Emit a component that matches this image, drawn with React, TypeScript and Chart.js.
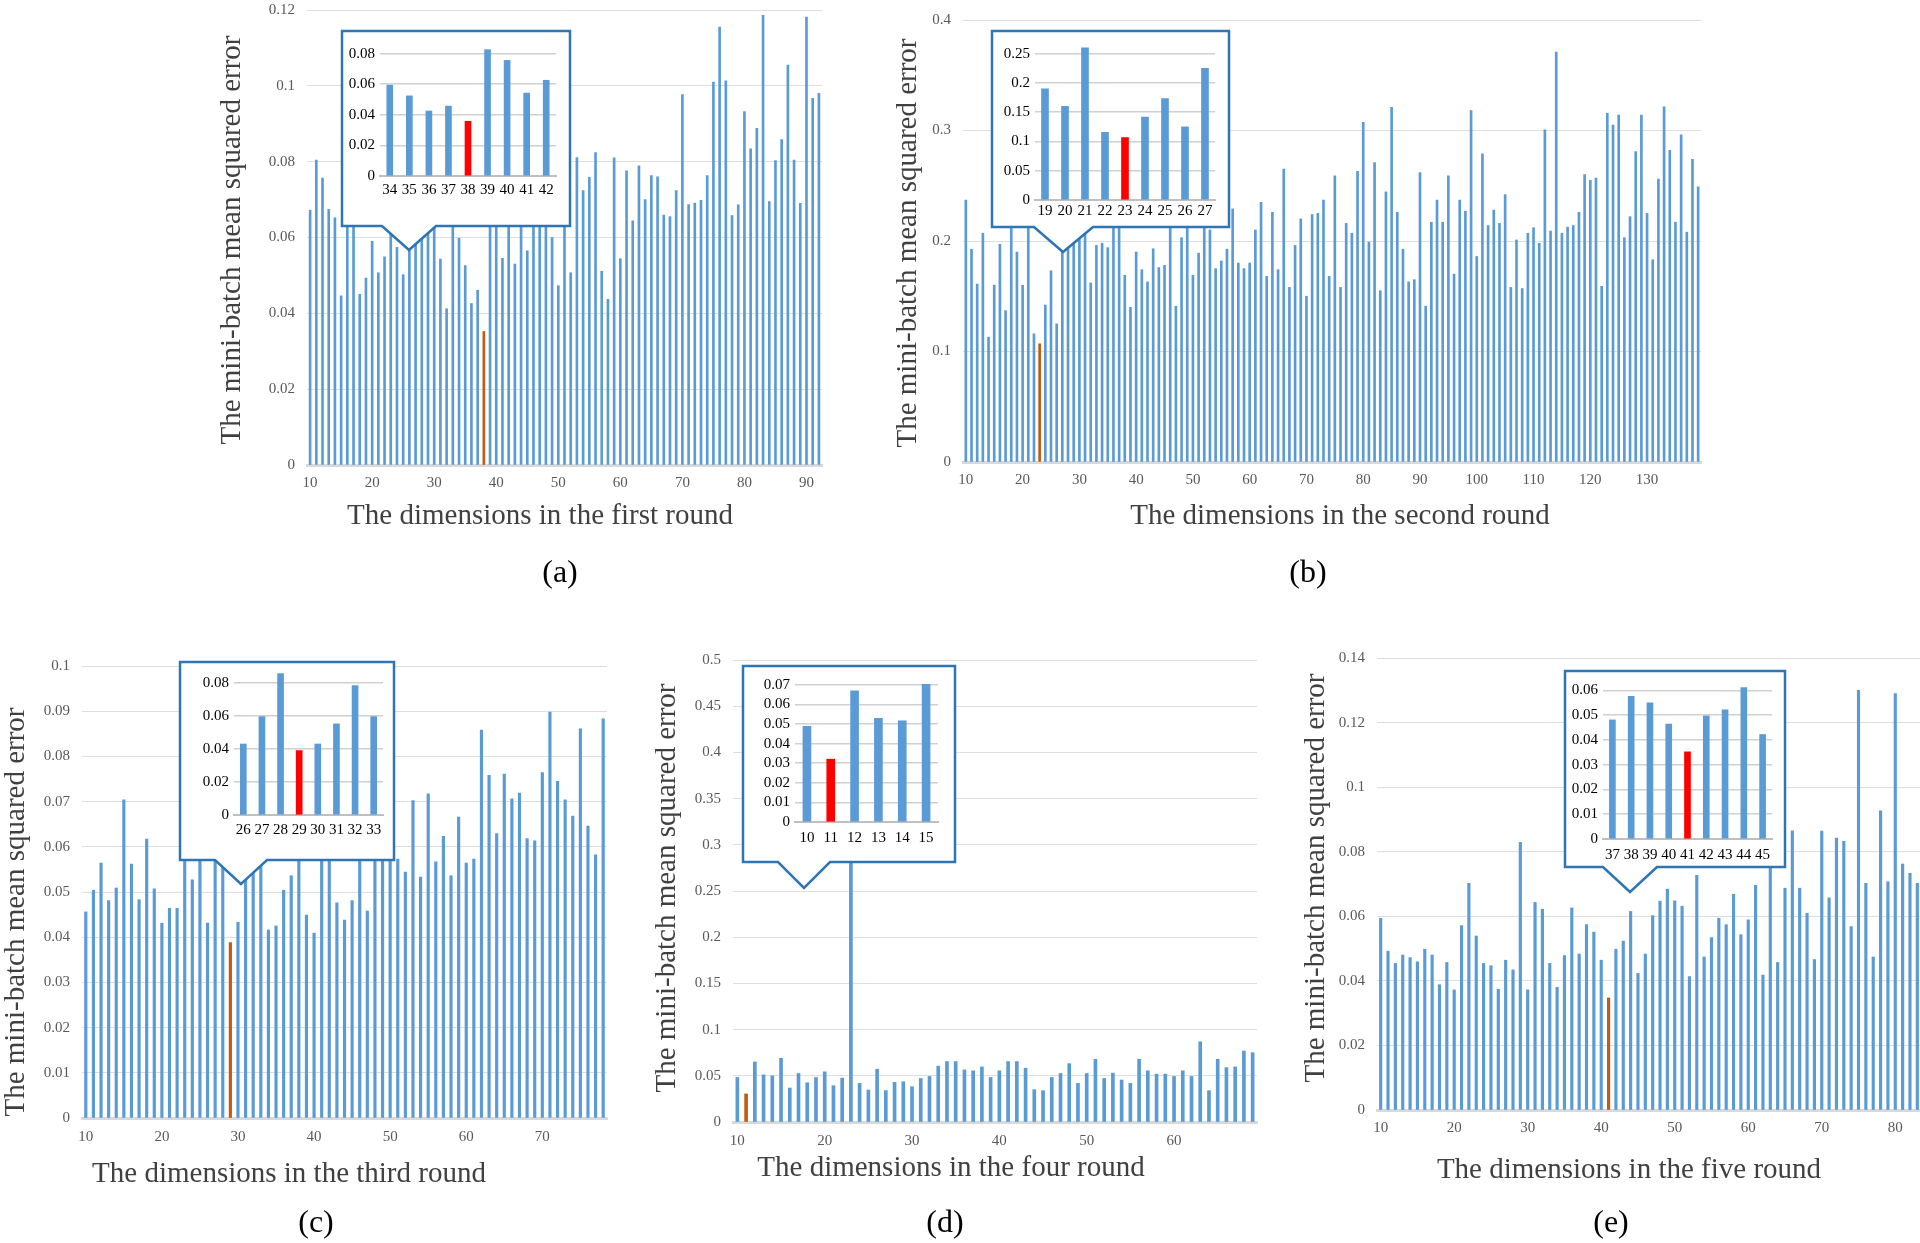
import React, { useEffect, useRef } from "react";
import { Chart, registerables } from "chart.js";

Chart.register(...registerables);

const FONT = "Liberation Serif";
const CSS_FONT = "'Liberation Serif', 'Times New Roman', Times, serif";

// ---------------- DATA ----------------
// (a) first round
const firstDimA = 10;
const mseA = [
  0.0672, 0.0804, 0.0757, 0.0674, 0.0652, 0.0446, 0.068, 0.066, 0.045, 0.0493,
  0.059, 0.0507, 0.0549, 0.07, 0.0574, 0.0502, 0.068, 0.0602, 0.07, 0.072,
  0.066, 0.0543, 0.0412, 0.068, 0.0598, 0.0526, 0.0426, 0.0461, 0.0352, 0.083,
  0.076, 0.0545, 0.063, 0.053, 0.068, 0.0565, 0.07, 0.07, 0.066, 0.06,
  0.0473, 0.07, 0.0507, 0.0811, 0.0724, 0.0759, 0.0824, 0.0511, 0.0437, 0.081,
  0.0544, 0.0776, 0.0644, 0.0789, 0.07, 0.0763, 0.076, 0.0659, 0.0655, 0.0724,
  0.0977, 0.0687, 0.0691, 0.0698, 0.0763, 0.101, 0.1155, 0.1013, 0.0658, 0.0686,
  0.0932, 0.0834, 0.0888, 0.1186, 0.0695, 0.0803, 0.0858, 0.1055, 0.0804, 0.069,
  0.1181, 0.0967, 0.098,
];
const selectedDimA = 38;
const insetDimsA = [34, 35, 36, 37, 38, 39, 40, 41, 42];
const insetMseA = [0.0594, 0.0524, 0.0425, 0.0457, 0.0358, 0.0826, 0.0756, 0.0542, 0.0626];

// (b) second round
const firstDimB = 10;
const mseB = [
  0.237, 0.1925, 0.161, 0.207, 0.113, 0.16, 0.197, 0.137, 0.225, 0.19,
  0.16, 0.263, 0.116, 0.107, 0.142, 0.173, 0.125, 0.225, 0.22, 0.235,
  0.21, 0.23, 0.162, 0.196, 0.198, 0.194, 0.22, 0.215, 0.169, 0.14,
  0.19, 0.174, 0.163, 0.193, 0.176, 0.178, 0.23, 0.141, 0.203, 0.22,
  0.169, 0.189, 0.215, 0.21, 0.175, 0.182, 0.1925, 0.229, 0.18, 0.175,
  0.18, 0.21, 0.235, 0.168, 0.226, 0.174, 0.265, 0.158, 0.196, 0.22,
  0.15, 0.224, 0.225, 0.237, 0.168, 0.259, 0.158, 0.216, 0.207, 0.263,
  0.3075, 0.199, 0.271, 0.155, 0.2445, 0.321, 0.226, 0.1925, 0.163, 0.165,
  0.262, 0.141, 0.217, 0.237, 0.217, 0.259, 0.17, 0.237, 0.227, 0.318,
  0.186, 0.279, 0.214, 0.228, 0.216, 0.242, 0.158, 0.201, 0.157, 0.207,
  0.212, 0.198, 0.3006, 0.209, 0.371, 0.207, 0.2125, 0.214, 0.226, 0.26,
  0.255, 0.257, 0.159, 0.3155, 0.305, 0.314, 0.203, 0.222, 0.281, 0.314,
  0.225, 0.183, 0.256, 0.3215, 0.282, 0.217, 0.296, 0.208, 0.274, 0.249,
];
const selectedDimB = 23;
const insetDimsB = [19, 20, 21, 22, 23, 24, 25, 26, 27];
const insetMseB = [0.19, 0.16, 0.26, 0.1156, 0.1067, 0.1417, 0.1733, 0.125, 0.225];

// (c) third round
const firstDimC = 10;
const mseC = [
  0.0456, 0.0504, 0.0564, 0.0481, 0.0509, 0.0704, 0.0562, 0.0483, 0.0617, 0.0507,
  0.0431, 0.0464, 0.0464, 0.058, 0.0527, 0.06, 0.0431, 0.06, 0.086, 0.0388,
  0.0433, 0.0551, 0.078, 0.06, 0.0416, 0.0425, 0.0504, 0.0536, 0.058, 0.0449,
  0.0409, 0.06, 0.058, 0.0476, 0.0438, 0.0481, 0.062, 0.0458, 0.058, 0.06,
  0.059, 0.0573, 0.0544, 0.0702, 0.0533, 0.0717, 0.0567, 0.0623, 0.0536, 0.0666,
  0.0564, 0.0573, 0.0858, 0.0758, 0.0629, 0.0761, 0.0706, 0.0719, 0.0618, 0.0613,
  0.0764, 0.0898, 0.0745, 0.0704, 0.0668, 0.0861, 0.0646, 0.0582, 0.0883,
];
const selectedDimC = 29;
const insetDimsC = [26, 27, 28, 29, 30, 31, 32, 33];
const insetMseC = [0.0431, 0.0597, 0.0859, 0.0391, 0.0431, 0.0553, 0.0786, 0.0597];

// (d) fourth round
const firstDimD = 10;
const mseD = [
  0.0482, 0.0304, 0.065, 0.051, 0.05, 0.069, 0.0368, 0.0525, 0.0425, 0.0482,
  0.0543, 0.0393, 0.0475, 0.3, 0.0418, 0.0346, 0.0571, 0.0339, 0.0429, 0.0436,
  0.0382, 0.0471, 0.0493, 0.0604, 0.0654, 0.0654, 0.0564, 0.0554, 0.0596, 0.0482,
  0.0554, 0.0654, 0.0654, 0.0582, 0.035, 0.0339, 0.0482, 0.0525, 0.0632, 0.0418,
  0.0525, 0.0679, 0.0471, 0.0529, 0.0454, 0.0418, 0.0679, 0.0554, 0.0518, 0.0518,
  0.0493, 0.0554, 0.0493, 0.0868, 0.0339, 0.0679, 0.0589, 0.0596, 0.0768, 0.075,
];
const selectedDimD = 11;
const insetDimsD = [10, 11, 12, 13, 14, 15];
const insetMseD = [0.0489, 0.0321, 0.067, 0.053, 0.0517, 0.0703];

// (e) fifth round
const firstDimE = 10;
const mseE = [
  0.0594, 0.0492, 0.0454, 0.048, 0.0472, 0.0459, 0.0498, 0.048, 0.0388, 0.0457,
  0.0372, 0.0571, 0.0702, 0.0539, 0.0454, 0.0447, 0.0374, 0.0464, 0.0434, 0.0829,
  0.0372, 0.0643, 0.0622, 0.0454, 0.038, 0.0478, 0.0626, 0.0483, 0.0574, 0.0551,
  0.0464, 0.0347, 0.0498, 0.0523, 0.0615, 0.0423, 0.0483, 0.0602, 0.0647, 0.0684,
  0.0648, 0.0631, 0.0413, 0.0727, 0.0474, 0.0534, 0.0594, 0.0574, 0.0668, 0.0543,
  0.0589, 0.0696, 0.0418, 0.078, 0.0457, 0.0687, 0.0865, 0.0687, 0.0609, 0.0466,
  0.0864, 0.0657, 0.0842, 0.0832, 0.0568, 0.13, 0.0702, 0.0474, 0.0927, 0.0707,
  0.129, 0.0762, 0.0733, 0.0702,
];
const selectedDimE = 41;
const insetDimsE = [37, 38, 39, 40, 41, 42, 43, 44, 45];
const insetMseE = [0.0481, 0.0576, 0.055, 0.0464, 0.0352, 0.0497, 0.0522, 0.0612, 0.0422];

// axis ranges (tick labels come from these)
const yMaxA = 0.12, yStepA = 0.02;
const yMaxB = 0.4, yStepB = 0.1;
const yMaxC = 0.1, yStepC = 0.01;
const yMaxD = 0.5, yStepD = 0.05;
const yMaxE = 0.14, yStepE = 0.02;
const insetYMaxA = 0.085, insetYStepA = 0.02;
const insetYMaxB = 0.27, insetYStepB = 0.05;
const insetYMaxC = 0.088, insetYStepC = 0.02;
const insetYMaxD = 0.072, insetYStepD = 0.01;
const insetYMaxE = 0.063, insetYStepE = 0.01;

const yTitle = "The mini-batch mean squared error";
const xTitles = [
  "The dimensions in the first round",
  "The dimensions in the second round",
  "The dimensions in the third round",
  "The dimensions in the four round",
  "The dimensions in the five round",
];
const captions = ["(a)", "(b)", "(c)", "(d)", "(e)"];

const dimsFrom = (first: number, n: number) => Array.from({ length: n }, (_, i) => first + i);

// ---------------- STYLE / LAYOUT ----------------
const BLUE = "#5B9BD5";
const MAIN_HI = "#C55A11";
const INSET_HI = "#FF0000";
const BOX = "#2E75B6";

type Area = { l: number; t: number; r: number; b: number };

type PanelSpec = {
  labels: number[];
  values: number[];
  selected: number;
  yMax: number;
  yStep: number;
  area: Area;
  bar: number;
  inset: boolean;
  xPad: number;
};

const fmt = (v: number) => String(parseFloat(Number(v).toFixed(4)));

function BarCanvas({ spec }: { spec: PanelSpec }) {
  const ref = useRef<HTMLCanvasElement | null>(null);
  const { area, inset } = spec;
  const padL = inset ? 44 : 72;
  const padT = inset ? 10 : 16;
  const padR = inset ? 8 : 22;
  const padB = inset ? 26 : 36;
  const left = area.l - padL;
  const top = area.t - padT;
  const width = area.r + padR - left;
  const height = area.b + padB - top;

  useEffect(() => {
    if (!ref.current) return;
    const tickColor = inset ? "#000000" : "#595959";
    const font = { family: FONT, size: 15 };
    const chart = new Chart(ref.current, {
      type: "bar",
      data: {
        labels: spec.labels.map(String),
        datasets: [
          {
            data: spec.values,
            backgroundColor: spec.labels.map((d) =>
              d === spec.selected ? (inset ? INSET_HI : MAIN_HI) : BLUE
            ),
            borderWidth: 0,
            barThickness: spec.bar,
          },
        ],
      },
      options: {
        animation: false,
        responsive: false,
        maintainAspectRatio: false,
        font: { family: FONT },
        layout: { padding: { left: 0, top: padT, right: padR, bottom: 0 } },
        plugins: {
          legend: { display: false },
          tooltip: { enabled: false },
          title: { display: false },
        },
        scales: {
          x: {
            type: "category",
            offset: true,
            grid: { display: false, drawTicks: false },
            border: { display: true, color: inset ? "#bfbfbf" : "#d9d9d9", width: inset ? 2 : 3 },
            ticks: {
              autoSkip: false,
              maxRotation: 0,
              minRotation: 0,
              padding: spec.xPad,
              color: tickColor,
              font,
              callback: (_v: any, i: number) => {
                const d = spec.labels[i];
                if (inset) return String(d);
                return d % 10 === 0 ? String(d) : null;
              },
            },
            afterFit: (s: any) => {
              s.height = padB;
            },
          },
          y: {
            min: 0,
            max: spec.yMax,
            grid: { color: inset ? "#d0d0d0" : "#dedede", lineWidth: inset ? 1.5 : 1, drawTicks: false },
            border: { display: false },
            ticks: {
              autoSkip: false,
              padding: inset ? 5 : 12,
              color: tickColor,
              font,
              callback: (v: any) => fmt(v),
            },
            afterBuildTicks: (s: any) => {
              const n = Math.floor(spec.yMax / spec.yStep + 1e-6);
              const t = [];
              for (let k = 0; k <= n; k++) t.push({ value: parseFloat((k * spec.yStep).toFixed(6)) });
              s.ticks = t;
            },
            afterFit: (s: any) => {
              s.width = padL;
            },
          },
        },
      },
    } as any);
    return () => chart.destroy();
  }, []);

  return (
    <canvas
      ref={ref}
      width={width}
      height={height}
      style={{ position: "absolute", left, top, width, height }}
    />
  );
}

type Callout = { box: Area; tail: { x1: number; x2: number; ax: number; ay: number } };

const mainPanels: PanelSpec[] = [
  { labels: dimsFrom(firstDimA, mseA.length), values: mseA, selected: selectedDimA, yMax: yMaxA, yStep: yStepA, area: { l: 307, t: 5, r: 822, b: 465 }, bar: 2, inset: false, xPad: 9 },
  { labels: dimsFrom(firstDimB, mseB.length), values: mseB, selected: selectedDimB, yMax: yMaxB, yStep: yStepB, area: { l: 963, t: 15, r: 1701, b: 462 }, bar: 2, inset: false, xPad: 9 },
  { labels: dimsFrom(firstDimC, mseC.length), values: mseC, selected: selectedDimC, yMax: yMaxC, yStep: yStepC, area: { l: 82, t: 661, r: 607, b: 1118 }, bar: 2.5, inset: false, xPad: 10 },
  { labels: dimsFrom(firstDimD, mseD.length), values: mseD, selected: selectedDimD, yMax: yMaxD, yStep: yStepD, area: { l: 733, t: 655, r: 1257, b: 1122 }, bar: 3, inset: false, xPad: 10 },
  { labels: dimsFrom(firstDimE, mseE.length), values: mseE, selected: selectedDimE, yMax: yMaxE, yStep: yStepE, area: { l: 1377, t: 653, r: 1921, b: 1110 }, bar: 2.5, inset: false, xPad: 9 },
];

const insetPanels: PanelSpec[] = [
  { labels: insetDimsA, values: insetMseA, selected: selectedDimA, yMax: insetYMaxA, yStep: insetYStepA, area: { l: 380, t: 42, r: 556, b: 176 }, bar: 6, inset: true, xPad: 5 },
  { labels: insetDimsB, values: insetMseB, selected: selectedDimB, yMax: insetYMaxB, yStep: insetYStepB, area: { l: 1035, t: 38, r: 1215, b: 200 }, bar: 7, inset: true, xPad: 2 },
  { labels: insetDimsC, values: insetMseC, selected: selectedDimC, yMax: insetYMaxC, yStep: insetYStepC, area: { l: 234, t: 666, r: 383, b: 815 }, bar: 6, inset: true, xPad: 6 },
  { labels: insetDimsD, values: insetMseD, selected: selectedDimD, yMax: insetYMaxD, yStep: insetYStepD, area: { l: 795, t: 677, r: 938, b: 822 }, bar: 8, inset: true, xPad: 7 },
  { labels: insetDimsE, values: insetMseE, selected: selectedDimE, yMax: insetYMaxE, yStep: insetYStepE, area: { l: 1603, t: 679, r: 1772, b: 839 }, bar: 6, inset: true, xPad: 7 },
];

const callouts: Callout[] = [
  { box: { l: 342, t: 31, r: 570, b: 226 }, tail: { x1: 382, x2: 436, ax: 409, ay: 250 } },
  { box: { l: 992, t: 31, r: 1229, b: 227 }, tail: { x1: 1034, x2: 1093, ax: 1063, ay: 252 } },
  { box: { l: 180, t: 662, r: 394, b: 860 }, tail: { x1: 215, x2: 267, ax: 241, ay: 884 } },
  { box: { l: 743, t: 666, r: 955, b: 862 }, tail: { x1: 778, x2: 830, ax: 804, ay: 888 } },
  { box: { l: 1565, t: 671, r: 1785, b: 867 }, tail: { x1: 1603, x2: 1657, ax: 1630, ay: 892 } },
];

const yTitlePos = [
  { x: 230, y: 240 },
  { x: 906, y: 243 },
  { x: 14, y: 912 },
  { x: 665, y: 888 },
  { x: 1314, y: 878 },
];
const xTitlePos = [
  { x: 540, y: 514 },
  { x: 1340, y: 514 },
  { x: 289, y: 1172 },
  { x: 951, y: 1166 },
  { x: 1629, y: 1168 },
];
const captionPos = [
  { x: 560, y: 571 },
  { x: 1308, y: 571 },
  { x: 316, y: 1221 },
  { x: 945, y: 1221 },
  { x: 1611, y: 1221 },
];

function calloutPath(c: Callout) {
  const { box, tail } = c;
  return `M ${box.l} ${box.t} H ${box.r} V ${box.b} H ${tail.x2} L ${tail.ax} ${tail.ay} L ${tail.x1} ${box.b} H ${box.l} Z`;
}

export default function App() {
  return (
    <div
      style={{
        position: "absolute",
        left: 0,
        top: 0,
        width: 1920,
        height: 1243,
        overflow: "hidden",
        background: "#ffffff",
        fontFamily: CSS_FONT,
      }}
    >
      {mainPanels.map((p, i) => (
        <BarCanvas key={"m" + i} spec={p} />
      ))}
      <svg
        width={1920}
        height={1243}
        style={{ position: "absolute", left: 0, top: 0, pointerEvents: "none" }}
      >
        {callouts.map((c, i) => (
          <path key={i} d={calloutPath(c)} fill="#ffffff" stroke={BOX} strokeWidth={2.5} strokeLinejoin="miter" />
        ))}
      </svg>
      {insetPanels.map((p, i) => (
        <BarCanvas key={"i" + i} spec={p} />
      ))}
      {yTitlePos.map((p, i) => (
        <div
          key={"yt" + i}
          style={{
            position: "absolute",
            left: p.x,
            top: p.y,
            transform: "translate(-50%, -50%) rotate(-90deg)",
            whiteSpace: "nowrap",
            fontSize: 29,
            color: "#404040",
            lineHeight: 1,
          }}
        >
          {yTitle}
        </div>
      ))}
      {xTitlePos.map((p, i) => (
        <div
          key={"xt" + i}
          style={{
            position: "absolute",
            left: p.x,
            top: p.y,
            transform: "translate(-50%, -50%)",
            whiteSpace: "nowrap",
            fontSize: 29,
            color: "#404040",
            lineHeight: 1,
          }}
        >
          {xTitles[i]}
        </div>
      ))}
      {captionPos.map((p, i) => (
        <div
          key={"cp" + i}
          style={{
            position: "absolute",
            left: p.x,
            top: p.y,
            transform: "translate(-50%, -50%)",
            whiteSpace: "nowrap",
            fontSize: 32,
            color: "#000000",
            lineHeight: 1,
          }}
        >
          {captions[i]}
        </div>
      ))}
    </div>
  );
}
